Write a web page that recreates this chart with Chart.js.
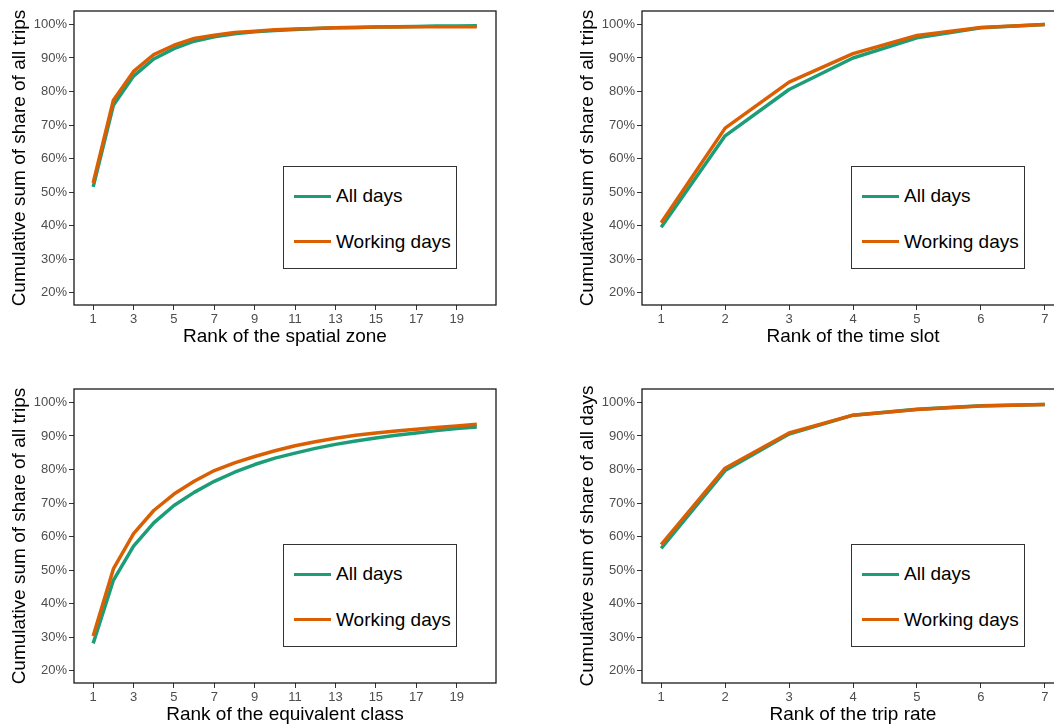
<!DOCTYPE html>
<html>
<head>
<meta charset="utf-8">
<script src="https://cdn.jsdelivr.net/npm/chart.js@4.4.1/dist/chart.umd.min.js"></script>
<style>
  html, body { margin: 0; padding: 0; background: #fff; overflow: hidden; width: 1054px; height: 724px; }
  .panel { position: absolute; width: 520px; height: 350px; }
  .panel canvas { position: absolute; left: 0; top: 0; }
  .legend {
    position: absolute; left: 283px; top: 166px; width: 172px; height: 101px;
    border: 1px solid #333; background: #fff;
    font-family: "Liberation Sans", Arial, sans-serif; font-size: 19px; color: #000;
  }
  .legend .item { position: absolute; left: 10px; height: 22px; }
  .legend .swatch { position: absolute; left: 0; top: 9.5px; width: 37px; height: 3px; }
  .legend .label { position: absolute; left: 42px; top: 0; line-height: 22px; white-space: nowrap; }
</style>
</head>
<body>
<div class="panel" style="left:0;top:0"><canvas id="zoneChart" width="520" height="350"></canvas></div>
<div class="panel" style="left:568px;top:0"><canvas id="slotChart" width="520" height="350"></canvas></div>
<div class="panel" style="left:0;top:378px"><canvas id="classChart" width="520" height="350"></canvas></div>
<div class="panel" style="left:568px;top:378px"><canvas id="rateChart" width="520" height="350"></canvas></div>

<script>
// ranks on the x axis
const rank20 = [1, 2, 3, 4, 5, 6, 7, 8, 9, 10, 11, 12, 13, 14, 15, 16, 17, 18, 19, 20];
const rank7 = [1, 2, 3, 4, 5, 6, 7];

// tick labels
const xTicks20 = [1, 3, 5, 7, 9, 11, 13, 15, 17, 19];
const xTicks7 = [1, 2, 3, 4, 5, 6, 7];
const yTicks = [20, 30, 40, 50, 60, 70, 80, 90, 100];

// spatial zone (%)
const zoneAll = [51.6, 75.9, 84.6, 89.7, 92.8, 95.0, 96.3, 97.2, 97.8, 98.2, 98.5, 98.8, 99.0, 99.1, 99.2, 99.3, 99.4, 99.5, 99.5, 99.6];
const zoneWork = [52.8, 77.4, 86.0, 91.0, 93.8, 95.8, 96.8, 97.6, 98.0, 98.4, 98.6, 98.8, 99.0, 99.1, 99.2, 99.2, 99.3, 99.3, 99.3, 99.3];

// time slot (%)
const slotAll = [39.6, 66.8, 80.6, 90.0, 96.0, 99.0, 100];
const slotWork = [40.9, 69.1, 82.8, 91.3, 96.7, 99.1, 100];

// equivalent class (%)
const classAll = [28.2, 47.0, 57.2, 64.1, 69.3, 73.2, 76.5, 79.2, 81.5, 83.4, 84.9, 86.3, 87.5, 88.5, 89.4, 90.2, 90.9, 91.6, 92.2, 92.7];
const classWork = [30.4, 50.4, 60.9, 67.8, 72.7, 76.5, 79.7, 82.0, 83.9, 85.6, 87.1, 88.3, 89.3, 90.2, 90.9, 91.5, 92.0, 92.5, 93.0, 93.5];

// trip rate (%)
const rateAll = [56.5, 79.7, 90.6, 96.2, 98.0, 99.0, 99.4];
const rateWork = [57.6, 80.4, 90.9, 96.2, 97.9, 98.9, 99.4];

const GREEN = "#1b9e77";
const ORANGE = "#d95f02";
const FONT = '"Liberation Sans", Arial, sans-serif';

Chart.defaults.font.family = FONT;

// black frame round the plotting area
const framePlugin = {
  id: "frame",
  afterDraw(chart) {
    const a = chart.chartArea;
    const ctx = chart.ctx;
    ctx.save();
    ctx.strokeStyle = "#1a1a1a";
    ctx.lineWidth = 1.3;
    ctx.strokeRect(a.left, a.top, a.right - a.left, a.bottom - a.top);
    ctx.restore();
  },
};

function points(xs, ys) {
  return xs.map((x, i) => ({ x: x, y: ys[i] }));
}

function makeChart(id, xs, allVals, workVals, xTicks, xTitle, yTitle) {
  const last = xs[xs.length - 1];
  const pad = (last - xs[0]) * 0.05;
  const ctx = document.getElementById(id).getContext("2d");

  new Chart(ctx, {
    type: "line",
    data: {
      datasets: [
        {
          label: "All days",
          data: points(xs, allVals),
          borderColor: GREEN,
          borderWidth: 3.5,
          pointRadius: 0,
          borderJoinStyle: "round",
          tension: 0,
          order: 1,
        },
        {
          label: "Working days",
          data: points(xs, workVals),
          borderColor: ORANGE,
          borderWidth: 3.5,
          pointRadius: 0,
          borderJoinStyle: "round",
          tension: 0,
          order: 0,
        },
      ],
    },
    options: {
      responsive: false,
      animation: false,
      layout: { padding: { top: 11, right: 24, left: 0, bottom: 0 } },
      plugins: { legend: { display: false }, tooltip: { enabled: false } },
      scales: {
        x: {
          type: "linear",
          min: xs[0] - pad,
          max: last + pad,
          afterBuildTicks: (s) => { s.ticks = xTicks.map((v) => ({ value: v })); },
          afterFit: (s) => { s.height = 45; },
          border: { display: false },
          grid: { drawOnChartArea: false, drawTicks: true, tickLength: 5, color: "#333" },
          ticks: { color: "#4d4d4d", font: { size: 13 }, padding: 2, maxRotation: 0, autoSkip: false },
          title: {
            display: true,
            text: xTitle,
            color: "#000",
            font: { size: 19 },
            padding: { top: 0, bottom: 2 },
          },
        },
        y: {
          min: 16.4,
          max: 104,
          afterBuildTicks: (s) => { s.ticks = yTicks.map((v) => ({ value: v })); },
          afterFit: (s) => { s.width = 74; },
          border: { display: false },
          grid: { drawOnChartArea: false, drawTicks: true, tickLength: 5, color: "#333" },
          ticks: {
            color: "#4d4d4d",
            font: { size: 13 },
            padding: 2,
            callback: (v) => v + "%",
          },
          title: {
            display: true,
            text: yTitle,
            color: "#000",
            font: { size: 19 },
            padding: { top: 8, bottom: 0 },
          },
        },
      },
    },
    plugins: [framePlugin],
  });

  // legend box inside the panel
  const legend = document.createElement("div");
  legend.className = "legend";
  legend.innerHTML = `
    <div class="item" style="top:18px"><div class="swatch" style="background:${GREEN}"></div><div class="label">All days</div></div>
    <div class="item" style="top:63.5px"><div class="swatch" style="background:${ORANGE}"></div><div class="label">Working days</div></div>
  `;
  document.getElementById(id).parentNode.appendChild(legend);
}

makeChart("zoneChart", rank20, zoneAll, zoneWork, xTicks20, "Rank of the spatial zone", "Cumulative sum of share of all trips");
makeChart("slotChart", rank7, slotAll, slotWork, xTicks7, "Rank of the time slot", "Cumulative sum of share of all trips");
makeChart("classChart", rank20, classAll, classWork, xTicks20, "Rank of the equivalent class", "Cumulative sum of share of all trips");
makeChart("rateChart", rank7, rateAll, rateWork, xTicks7, "Rank of the trip rate", "Cumulative sum of share of all days");
</script>
</body>
</html>
